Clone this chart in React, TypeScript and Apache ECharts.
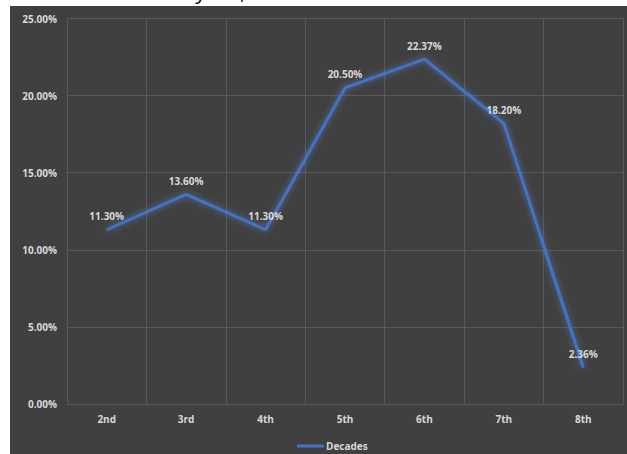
import React, { useEffect, useRef } from "react";
import * as echarts from "echarts";

const categories = ["2nd", "3rd", "4th", "5th", "6th", "7th", "8th"];
const decadesValues = [11.3, 13.6, 11.3, 20.5, 22.37, 18.2, 2.36];
const seriesName = "Decades";
const yMin = 0;
const yMax = 25;
const yInterval = 5;

const labelColor = "#d9d9d9";
const gridColor = "#595959";
const lineColor = "#4472C4";
const fontFamily = "'Open Sans', 'Liberation Sans', sans-serif";

export default function App() {
  const ref = useRef<HTMLDivElement>(null);

  useEffect(() => {
    if (!ref.current) return;
    const chart = echarts.init(ref.current, undefined, { renderer: "svg" });
    chart.setOption({
      animation: false,
      backgroundColor: "#404040",
      grid: { left: 57, right: 4, top: 12.5, bottom: 50, containLabel: false },
      legend: {
        data: [seriesName],
        left: 282,
        top: 430,
        icon: "rect",
        itemWidth: 27,
        itemHeight: 3,
        itemGap: 2,
        itemStyle: { color: lineColor, opacity: 1 },
        textStyle: { color: labelColor, fontSize: 10, fontWeight: "bold", fontFamily, padding: [0, 0, 0, -3] },
      },
      xAxis: {
        type: "category",
        data: categories,
        boundaryGap: true,
        axisLine: { show: false },
        axisTick: { show: false },
        axisLabel: { color: labelColor, fontSize: 10, fontWeight: "bold", fontFamily, margin: 10 },
        splitLine: { show: true, lineStyle: { color: gridColor, width: 1 } },
      },
      yAxis: {
        type: "value",
        min: yMin,
        max: yMax,
        interval: yInterval,
        axisLine: { show: false },
        axisTick: { show: false },
        axisLabel: {
          color: labelColor,
          fontSize: 10,
          fontWeight: "bold",
          fontFamily,
          margin: 10,
          formatter: (v: number) => v.toFixed(2) + "%",
        },
        splitLine: { show: true, lineStyle: { color: gridColor, width: 1 } },
      },
      series: [
        {
          name: seriesName,
          type: "line",
          data: decadesValues,
          symbol: "circle",
          symbolSize: 1,
          showSymbol: true,
          itemStyle: { color: "rgba(0,0,0,0)", borderWidth: 0 },
          lineStyle: {
            color: lineColor,
            width: 3,
            shadowColor: "rgba(90,140,230,0.7)",
            shadowBlur: 6,
          },
          label: {
            show: true,
            position: "top",
            distance: 8,
            color: labelColor,
            fontSize: 10,
            fontWeight: "bold",
            fontFamily,
            formatter: (p: any) => Number(p.value).toFixed(2) + "%",
          },
        },
      ],
    });
    return () => chart.dispose();
  }, []);

  return (
    <div style={{ position: "fixed", left: 0, top: 0, width: 627, height: 454, background: "#ffffff", overflow: "hidden" }}>
      <div
        style={{
          position: "absolute",
          left: 12,
          top: -22,
          fontFamily: "'Open Sans', sans-serif",
          fontSize: 22,
          color: "#111",
          whiteSpace: "nowrap",
          lineHeight: "24px",
        }}
      >
        the share of each year,
      </div>
      <div ref={ref} style={{ position: "absolute", left: 10, top: 6, width: 617, height: 448 }} />
    </div>
  );
}
